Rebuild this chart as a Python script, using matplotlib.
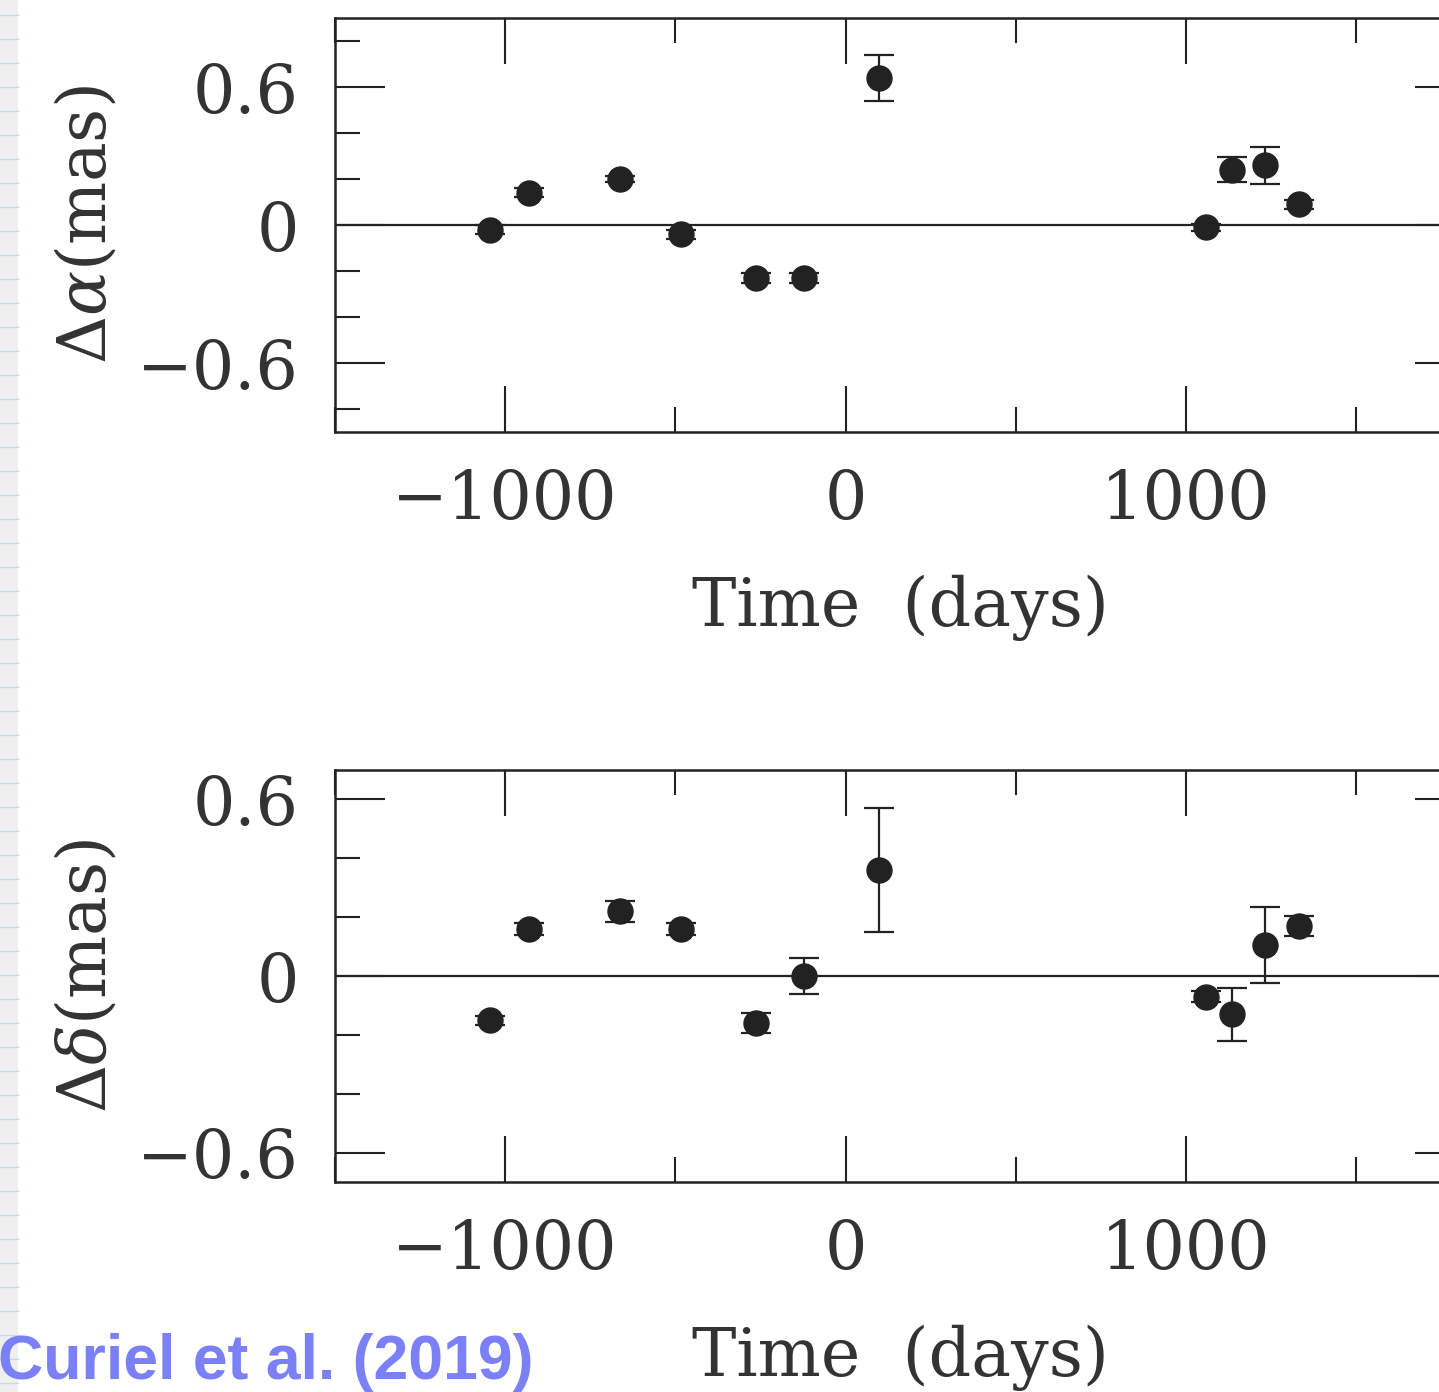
#!/usr/bin/env python3
"""
Astrometric residuals (RA / Dec) vs time, two stacked panels
"""

import matplotlib

matplotlib.use("Agg")
import matplotlib.pyplot as plt
from matplotlib.lines import Line2D
from matplotlib.patches import Rectangle
from matplotlib.ticker import MultipleLocator

# epochs in days relative to reference epoch
time_days = [-1044, -929, -662, -482, -262, -121, 97, 1059, 1135, 1232, 1332]

# RA residuals (mas)
dra = [-0.02, 0.14, 0.20, -0.04, -0.23, -0.23, 0.64, -0.01, 0.24, 0.26, 0.09]
dra_err = [0.02, 0.02, 0.015, 0.02, 0.02, 0.02, 0.10, 0.015, 0.055, 0.08, 0.02]

# Dec residuals (mas)
ddec = [-0.15, 0.16, 0.22, 0.16, -0.16, 0.0, 0.36, -0.07, -0.13, 0.105, 0.17]
ddec_err = [0.015, 0.02, 0.035, 0.02, 0.035, 0.06, 0.21, 0.02, 0.09, 0.13, 0.035]

y_ticks = [-0.6, 0, 0.6]
y_ticklabels = ["\u22120.6", "0", "0.6"]
x_ticks = [-1000, 0, 1000]
x_ticklabels = ["\u22121000", "0", "1000"]

ink = "#222222"
text_col = "#333333"

plt.rcParams["font.family"] = "DejaVu Serif"
plt.rcParams["mathtext.fontset"] = "dejavuserif"

W, H = 1439, 1392
fig = plt.figure(figsize=(W / 100, H / 100), dpi=100)
fig.patch.set_facecolor("white")

# notebook-paper strip on the left edge
fig.patches.append(
    Rectangle((0, 0), 18 / W, 1, transform=fig.transFigure, facecolor="#efefef",
              edgecolor="none", zorder=0)
)
for yp in range(15, H, 24):
    fig.lines.append(
        Line2D([0, 18 / W], [1 - yp / H] * 2, transform=fig.transFigure,
               color="#c2dcec", lw=1.0, zorder=1)
    )


def setup_axis(ax, ylim, ylabel):
    ax.set_xlim(-1500, 1820)
    ax.set_ylim(*ylim)
    ax.axhline(0, color=ink, lw=1.6, zorder=1)

    ax.set_xticks(x_ticks)
    ax.set_xticklabels(x_ticklabels)
    ax.set_yticks(y_ticks)
    ax.set_yticklabels(y_ticklabels)
    ax.xaxis.set_minor_locator(MultipleLocator(500))
    ax.yaxis.set_minor_locator(MultipleLocator(0.2))

    ax.tick_params(axis="both", which="both", direction="in", top=True,
                   right=True, width=1.5, color=ink, labelcolor=text_col,
                   labelsize=48)
    ax.tick_params(axis="x", which="major", length=33, pad=26)
    ax.tick_params(axis="x", which="minor", length=18)
    ax.tick_params(axis="y", which="major", length=36, pad=26)
    ax.tick_params(axis="y", which="minor", length=18)

    for sp in ax.spines.values():
        sp.set_linewidth(1.8)
        sp.set_color(ink)

    ax.set_xlabel("Time  (days)", fontsize=48, color=text_col, labelpad=30)
    ax.set_ylabel(ylabel, fontsize=48, color=text_col, labelpad=12)


def plot_points(ax, y, yerr):
    ax.errorbar(time_days, y, yerr=yerr, fmt="o", color=ink, ms=18,
                elinewidth=1.6, capsize=10.5, capthick=1.6, zorder=3)


ax1 = fig.add_axes([335 / W, 1 - 432 / H, 1130 / W, 414 / H])
setup_axis(ax1, (-0.9, 0.9), r"$\Delta\alpha$(mas)")
plot_points(ax1, dra, dra_err)

ax2 = fig.add_axes([335 / W, 1 - 1182 / H, 1130 / W, 412 / H])
setup_axis(ax2, (-0.7, 0.7), r"$\Delta\delta$(mas)")
plot_points(ax2, ddec, ddec_err)

fig.text(-2 / W, 1 - 1379 / H, "Curiel et al. (2019)",
         family=["Liberation Sans", "DejaVu Sans"], fontweight="bold",
         fontsize=45, color="#7b80f7", ha="left", va="baseline")

fig.savefig("out.png", dpi=100)
